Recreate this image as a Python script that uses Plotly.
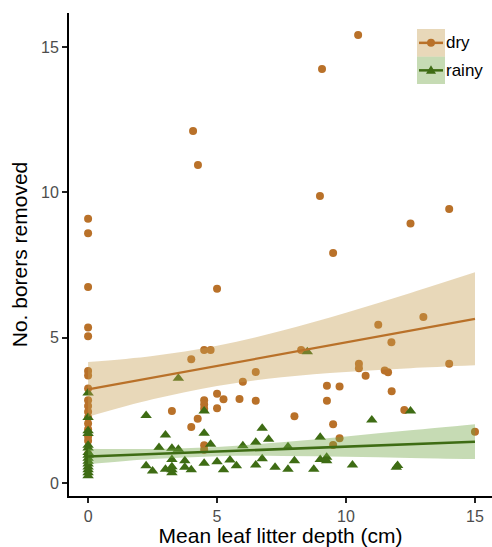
import plotly.graph_objects as go

# ---- data ----
dry_x = [0, 0, 0, 0, 0, 0, 0, 0, 0, 0, 0, 0, 0, 0, 0, 0, 0,
         4.07, 4.26, 10.47, 9.07, 8.99, 9.5, 14.0, 12.5, 13.0, 11.25, 11.76, 14.0,
         10.5, 10.5, 10.76, 11.5, 11.63, 8.26, 9.26, 9.75, 9.26, 11.77, 8.0, 12.26,
         9.5, 9.75, 9.5, 15.0, 6.5, 6.0, 5.0, 4.5, 4.75, 4.0, 5.0, 5.25, 5.87, 6.5,
         4.5, 4.5, 4.5, 5.0, 3.25, 4.25, 4.0, 4.5, 4.5]
dry_y = [9.1, 8.6, 6.75, 5.35, 5.05, 3.85, 3.7, 3.25, 2.85, 2.65, 2.45, 2.25, 2.05, 1.85, 1.6, 1.45, 1.0,
         12.12, 10.95, 15.42, 14.25, 9.88, 7.92, 9.43, 8.93, 5.71, 5.45, 4.84, 4.1,
         4.1, 3.95, 3.69, 3.87, 3.81, 4.58, 3.35, 3.32, 2.83, 3.16, 2.3, 2.51,
         2.02, 1.54, 1.31, 1.76, 3.82, 3.48, 6.69, 4.58, 4.58, 4.26, 3.07, 2.88, 2.89, 2.83,
         2.85, 2.7, 2.55, 2.57, 2.48, 2.21, 1.93, 1.3, 1.14]

rainy_x = [0, 0, 0, 0, 0, 0, 0, 0, 0, 0, 0, 0, 0, 0, 0,
           3.5, 2.25, 3.0, 4.5, 4.5, 2.75, 3.25, 3.5, 4.75, 3.25, 3.75, 2.25, 2.5, 3.0,
           3.25, 3.25, 3.25, 3.75, 4.0, 4.5, 5.0, 5.25, 5.5, 5.75, 6.0, 6.5, 6.75, 7.0,
           6.5, 6.75, 7.25, 7.75, 7.75, 8.0, 8.75, 9.0, 9.0, 9.25, 9.25, 10.25, 11.0,
           12.5, 12.0, 11.95, 8.5]
rainy_y = [3.1, 2.25, 1.8, 1.7, 1.3, 1.2, 1.05, 0.95, 0.85, 0.75, 0.65, 0.55, 0.45, 0.35, 0.25,
           3.6, 2.32, 1.65, 2.48, 1.71, 1.22, 1.19, 1.16, 1.33, 0.81, 0.76, 0.59, 0.41, 0.47,
           0.56, 0.45, 0.35, 0.54, 0.45, 0.68, 0.73, 0.45, 0.79, 0.59, 1.28, 1.4, 1.88, 1.5,
           0.62, 0.83, 0.54, 1.25, 0.47, 0.76, 0.47, 1.57, 0.81, 0.88, 0.76, 0.62, 2.17,
           2.48, 0.6, 0.54, 4.52]

# fitted lines and confidence bands
fit_x = [0, 2.5, 5, 7.5, 10, 12.5, 15]
dry_fit = [3.22, 3.625, 4.03, 4.435, 4.84, 5.245, 5.65]
dry_lo = [2.28, 2.88, 3.34, 3.64, 3.82, 3.95, 4.05]
dry_hi = [4.16, 4.37, 4.72, 5.24, 5.86, 6.54, 7.25]
rainy_fit = [0.91, 0.995, 1.08, 1.165, 1.25, 1.335, 1.42]
rainy_lo = [0.64, 0.82, 0.92, 0.93, 0.90, 0.86, 0.82]
rainy_hi = [1.18, 1.17, 1.24, 1.40, 1.60, 1.81, 2.02]

x_ticks = [0, 5, 10, 15]
y_ticks = [0, 5, 10, 15]
series_names = ["dry", "rainy"]

DRY = "rgb(185,113,41)"
RAINY = "rgb(62,108,20)"
DRY_BAND = "rgba(198,158,80,0.40)"
RAINY_BAND = "rgba(113,165,68,0.40)"
FONT = "Liberation Sans, Arial, sans-serif"

fig = go.Figure()

fig.add_trace(go.Scatter(x=dry_x, y=dry_y, mode="markers",
                         marker=dict(symbol="circle", size=8, color=DRY),
                         showlegend=False))
fig.add_trace(go.Scatter(x=rainy_x, y=rainy_y, mode="markers",
                         marker=dict(symbol="triangle-up", size=10, color=RAINY),
                         showlegend=False))

for lo, hi, band in [(dry_lo, dry_hi, DRY_BAND), (rainy_lo, rainy_hi, RAINY_BAND)]:
    fig.add_trace(go.Scatter(x=fit_x, y=lo, mode="lines", line=dict(width=0, shape="spline"),
                             showlegend=False, hoverinfo="skip"))
    fig.add_trace(go.Scatter(x=fit_x, y=hi, mode="lines", line=dict(width=0, shape="spline"),
                             fill="tonexty", fillcolor=band, showlegend=False, hoverinfo="skip"))

fig.add_trace(go.Scatter(x=fit_x, y=dry_fit, mode="lines", line=dict(color=DRY, width=2.2),
                         showlegend=False))
fig.add_trace(go.Scatter(x=fit_x, y=rainy_fit, mode="lines", line=dict(color=RAINY, width=2.6),
                         showlegend=False))

# ---- custom legend (keys with band backgrounds) ----
W, H = 492, 547
L, R, T, B = 69, 0, 13, 51
pw, ph = W - L - R, H - T - B

def px(x):
    return (x - L) / pw

def py(y):
    return (H - B - y) / ph

shapes = []
annotations = []
rows = [(series_names[0], 29, 56.7, DRY, DRY_BAND, "circle"),
        (series_names[1], 56.7, 84, RAINY, RAINY_BAND, "tri")]
for name, y0, y1, col, band, sym in rows:
    yc = (y0 + y1) / 2
    shapes.append(dict(type="rect", xref="paper", yref="paper", x0=px(417), x1=px(445),
                       y0=py(y1), y1=py(y0), fillcolor=band, line=dict(width=0), layer="above"))
    shapes.append(dict(type="line", xref="paper", yref="paper", x0=px(419), x1=px(443),
                       y0=py(yc), y1=py(yc), line=dict(color=col, width=2.5), layer="above"))
    if sym == "circle":
        shapes.append(dict(type="circle", xref="paper", yref="paper", xsizemode="pixel",
                           ysizemode="pixel", xanchor=px(431), yanchor=py(yc),
                           x0=-4, x1=4, y0=-4, y1=4, fillcolor=col, line=dict(width=0),
                           layer="above"))
    else:
        shapes.append(dict(type="path", xref="paper", yref="paper", xsizemode="pixel",
                           ysizemode="pixel", xanchor=px(431), yanchor=py(yc),
                           path="M-5,-3.5 L5,-3.5 L0,5 Z", fillcolor=col, line=dict(width=0),
                           layer="above"))
    annotations.append(dict(text=name, xref="paper", yref="paper", x=px(444), y=py(yc),
                            xanchor="left", yanchor="middle", showarrow=False,
                            font=dict(family=FONT, size=17, color="black")))

fig.update_layout(
    width=W, height=H,
    margin=dict(l=L, r=R, t=T, b=B),
    plot_bgcolor="white", paper_bgcolor="white",
    font=dict(family=FONT, color="black"),
    shapes=shapes, annotations=annotations,
    showlegend=False,
)
fig.update_xaxes(range=[-0.74, 15.66], tickvals=x_ticks, ticktext=[str(v) for v in x_ticks],
                 showgrid=False, zeroline=False, showline=True, linecolor="black", linewidth=2,
                 ticks="outside", ticklen=5, tickwidth=1.5, tickcolor="#222222",
                 tickfont=dict(size=16, color="#4D4D4D"),
                 title=dict(text="Mean leaf litter depth (cm)", font=dict(size=21, color="black"),
                            standoff=6))
fig.update_yaxes(range=[-0.45, 16.18], tickvals=y_ticks, ticktext=[str(v) for v in y_ticks],
                 showgrid=False, zeroline=False, showline=True, linecolor="black", linewidth=2,
                 ticks="outside", ticklen=5, tickwidth=1.5, tickcolor="#222222",
                 tickfont=dict(size=16, color="#4D4D4D"),
                 title=dict(text="No. borers removed", font=dict(size=21, color="black"),
                            standoff=8))

fig.write_html("out.html", config={"displayModeBar": False})

# remove the browser's default page margin so the figure fills the window exactly
with open("out.html", "r", encoding="utf-8") as f:
    html = f.read()
html = html.replace("<body>", '<body style="margin:0;padding:0;overflow:hidden">', 1)
with open("out.html", "w", encoding="utf-8") as f:
    f.write(html)
